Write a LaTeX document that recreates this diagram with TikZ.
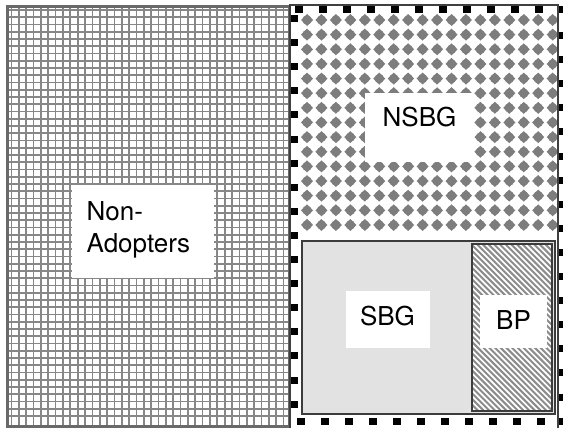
\documentclass[tikz,border=0pt]{standalone}
\usepackage{fontspec}
\setmainfont{TeX Gyre Heros}
\usepackage{tikz}
\definecolor{gridline}{RGB}{135,135,135}
\definecolor{gridframe}{RGB}{105,105,105}
\definecolor{dotfill}{RGB}{125,125,125}
\definecolor{sbgfill}{RGB}{226,226,226}
\definecolor{hatchline}{RGB}{140,140,140}
\definecolor{boxframe}{RGB}{60,60,60}
\tikzset{lbl/.style={font=\fontsize{26}{32}\selectfont, inner sep=0pt}}

\begin{document}
\begin{tikzpicture}[x=1pt,y=-1pt]
			\def\gx{7.35}
			\def\gy{7.25}
			\def\dx{14.45}
			\def\dy{14.64}
			\def\sq{24}

			\useasboundingbox (0,0) rectangle (563,431);
			\fill[white] (0,0) rectangle (563,431);
			\clip (0,0) rectangle (563,431);

			% Non-Adopters (grid)
			\begin{scope}
				\clip (7.5,6.5) rectangle (289,426.5);
				\foreach \i in {0,...,38} \draw[gridline, line width=1.7] ({11.5+\gx*\i},0) -- ++(0,431);
				\foreach \j in {0,...,56} \draw[gridline, line width=1.7] (0,{10+\gy*\j}) -- ++(290,0);
			\end{scope}
			\draw[gridframe, line width=3] (7.5,6.5) rectangle (289,426.5);
			\fill[white] (72,185) rectangle (214,278);
			\node[lbl, anchor=north west, align=left] (nonadopt) at (86.5,201) {Non-\\Adopters};

			% NSBG (diamonds)
			\foreach \i in {0,...,17}
				\foreach \j in {0,...,14} {
					\fill[dotfill] ({307+\dx*\i},{20+\dy*\j}) +(-6,0) -- +(0,-6) -- +(6,0) -- +(0,6) -- cycle;
					\fill[dotfill] ({307+\dx*\i},{20+\dy*\j}) circle (4.7pt);
				}
			\fill[white] (365,93) rectangle (472,162);
			\node[lbl, anchor=base] (nsbg) at (419.5,126) {NSBG};

			% SBG and BP
			\fill[sbgfill] (302,241) rectangle (555,414);
			\draw[boxframe, line width=2] (302,241) rectangle (555,414);
			\begin{scope}
				\clip (472,244) rectangle (552,411);
				\fill[white] (472,244) rectangle (552,411);
				\foreach \k in {0,...,45} \draw[hatchline, line width=2] ({300+5.7*\k},244) -- ++(170,170);
			\end{scope}
			\draw[boxframe, line width=1.2] (472,244) rectangle (552,411);
			\fill[white] (346,291) rectangle (430,348);
			\node[lbl, anchor=base] (sbg) at (387.5,325) {SBG};
			\fill[white] (480,295) rectangle (547,348);
			\node[lbl, anchor=base] (bp) at (513.5,329) {BP};

			% dashed frame of the adopters
			\draw[black!75, line width=1.3] (290,428) -- (290,5) -- (558,5) -- (558,428);
			\foreach \i in {0,...,11} \fill[black] ({295+\sq*\i},6) rectangle ++(8,7);
			\foreach \i in {0,...,11} \fill[black] ({297+\sq*\i},418) rectangle ++(8,7);
			\foreach \k in {0,...,16} \fill[black] (291,{15+24.1*\k}) rectangle ++(7,7);
			\foreach \k in {0,...,16} \fill[black] (559,{32+24.1*\k}) rectangle ++(7,7);

		\end{tikzpicture}
\end{document}
